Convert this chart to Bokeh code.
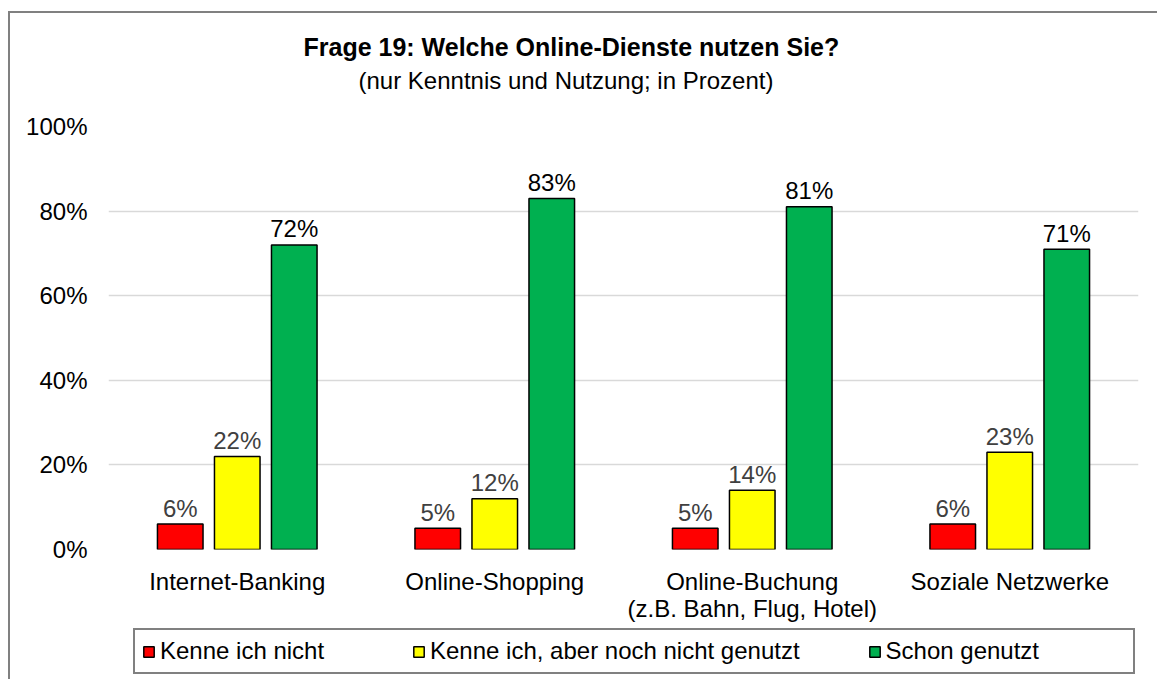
from bokeh.plotting import figure
from bokeh.layouts import column
from bokeh.models import (FactorRange, Range1d, FixedTicker, PrintfTickFormatter,
                          Title, Legend, LegendItem, ColumnDataSource)
from bokeh.transform import dodge
from bokeh.core.properties import value
from bokeh.embed import file_html
from bokeh.resources import INLINE

categories = ["Internet-Banking", "Online-Shopping",
              "Online-Buchung\n(z.B. Bahn, Flug, Hotel)", "Soziale Netzwerke"]
kenne_nicht = [6, 5, 5, 6]
kenne_nicht_genutzt = [22, 12, 14, 23]
schon_genutzt = [72, 83, 81, 71]
series_names = ["Kenne ich nicht", "Kenne ich, aber noch nicht genutzt", "Schon genutzt"]
series_colors = ["#FF0000", "#FFFF00", "#00B050"]
y_ticks = [0, 20, 40, 60, 80, 100]
title_text = "Frage 19: Welche Online-Dienste nutzen Sie?"
subtitle_text = "(nur Kenntnis und Nutzung; in Prozent)"

FONT = "Liberation Sans"

src = ColumnDataSource(dict(
    cat=categories,
    a=kenne_nicht, b=kenne_nicht_genutzt, c=schon_genutzt,
    la=[f"{v}%" for v in kenne_nicht],
    lb=[f"{v}%" for v in kenne_nicht_genutzt],
    lc=[f"{v}%" for v in schon_genutzt],
))

p = figure(width=1147, height=615, output_backend="svg", toolbar_location=None,
           x_range=FactorRange(factors=categories, range_padding=0),
           y_range=Range1d(0, 100), title=None,
           min_border_left=98, min_border_right=19, min_border_top=113,
           min_border_bottom=79)
p.outline_line_color = None
p.background_fill_color = "white"
p.border_fill_color = "white"

off = 0.2214
bw = 0.177
cols = [("a", "la", series_colors[0], -off, "#404040"),
        ("b", "lb", series_colors[1], 0.0, "#404040"),
        ("c", "lc", series_colors[2], off, "#000000")]
for field, lfield, color, o, tcol in cols:
    p.vbar(x=dodge("cat", o, range=p.x_range), top=field, width=bw, source=src,
           fill_color=color, line_color="black", line_width=1.5)
    p.text(x=dodge("cat", o, range=p.x_range), y=field, text=lfield, source=src,
           text_align="center", text_baseline="alphabetic", y_offset=-16,
           text_font=value(FONT), text_font_size="24px", text_color=tcol)

# axes
p.yaxis.ticker = FixedTicker(ticks=y_ticks)
p.yaxis.formatter = PrintfTickFormatter(format="%d%%")
for ax in (p.xaxis, p.yaxis):
    ax.axis_line_color = None
    ax.major_tick_line_color = None
    ax.minor_tick_line_color = None
    ax.major_tick_out = 0
    ax.major_tick_in = 0
    ax.major_label_text_font = FONT
    ax.major_label_text_font_size = "24px"
    ax.major_label_text_color = "black"
p.yaxis.major_label_standoff = 21
p.xaxis.major_label_standoff = 18
p.xaxis.major_label_text_line_height = 1.0
p.xgrid.grid_line_color = None
p.ygrid.ticker = FixedTicker(ticks=y_ticks)
p.ygrid.grid_line_color = "#D9D9D9"
p.ygrid.grid_line_width = 1.5

# titles: spacer nearest to frame, then subtitle, then main title
p.add_layout(Title(text=" ", text_font_size="1px", standoff=30), "above")
p.add_layout(Title(text=subtitle_text, align="left", offset=250, text_font=FONT,
                   text_font_size="24px", text_font_style="normal", text_color="black",
                   standoff=0), "above")
p.add_layout(Title(text=title_text, align="left", offset=195, text_font=FONT,
                   text_font_size="25px", text_font_style="bold", text_color="black",
                   standoff=8), "above")

# legend strip (its swatch renderers use the same data, kept outside the visible range)
lg = figure(width=1147, height=51, output_backend="svg", toolbar_location=None,
            x_range=FactorRange(factors=categories, range_padding=0),
            y_range=Range1d(-300, -200),
            x_axis_type=None, y_axis_type=None, title=None, min_border=0)
lg.outline_line_color = None
lg.background_fill_color = "white"
lg.border_fill_color = "white"
swatches = []
for field, lfield, color, o, tcol in cols:
    swatches.append(lg.vbar(x=dodge("cat", o, range=lg.x_range), top=field, width=bw,
                            source=src, fill_color=color, line_color="black", line_width=1.5))
nb = "\u00a0" * 13
legend_labels = [series_names[0], series_names[1], series_names[2] + nb]
legend = Legend(items=[LegendItem(label=n, renderers=[r]) for n, r in zip(legend_labels, swatches)],
                orientation="horizontal", location=(25, 5), padding=7, margin=0,
                spacing=68, label_width=184, label_standoff=5, glyph_width=13, glyph_height=13,
                label_text_font=FONT, label_text_font_size="24px", label_text_color="black",
                border_line_color="#808080", border_line_width=2, border_line_alpha=1,
                background_fill_color="white", background_fill_alpha=1)
lg.add_layout(legend, "center")

layout = column(p, lg, spacing=0,
                styles={"border-left": "2px solid #808080", "border-top": "2px solid #808080",
                        "margin-left": "8px", "margin-top": "11px"})

open("out.html", "w").write(file_html(layout, INLINE))
